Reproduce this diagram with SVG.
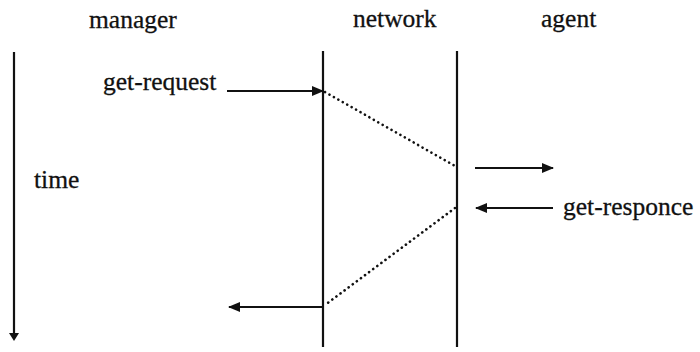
<svg xmlns="http://www.w3.org/2000/svg" width="700" height="352" viewBox="0 0 700 352">
  <style>
    text { font-family: "Liberation Serif", "Times New Roman", serif; font-size: 25.5px; fill: #111; stroke: #111; stroke-width: 0.3; }
    .life { stroke: #111; stroke-width: 2.2; fill: none; }
    .msg { stroke: #111; stroke-width: 2.2; fill: none; marker-end: url(#head); }
    .dot { stroke: #111; stroke-width: 2.6; fill: none; stroke-dasharray: 0.1 5; stroke-linecap: round; }
  </style>
  <defs>
    <marker id="head" viewBox="0 0 12 10" refX="11" refY="5" markerWidth="12" markerHeight="10" markerUnits="userSpaceOnUse" orient="auto">
      <path d="M0,0 L12,5 L0,10 Z" fill="#111"/>
    </marker>
  </defs>

  <rect width="700" height="352" fill="#fff"/>

  <!-- participants -->
  <g id="manager">
    <text x="89" y="28">manager</text>
  </g>
  <g id="network">
    <text x="353" y="27">network</text>
    <line class="life" x1="323" y1="51" x2="323" y2="347"/>
  </g>
  <g id="agent">
    <text x="541" y="27">agent</text>
    <line class="life" x1="457" y1="51" x2="457" y2="347"/>
  </g>

  <!-- time axis -->
  <g id="time">
    <line class="life" x1="14" y1="52" x2="14" y2="334"/>
    <path d="M9,333 L19,333 L14,341 Z" fill="#111"/>
    <text x="34" y="188">time</text>
  </g>

  <!-- labels -->
  <g id="get-request">
    <text x="103" y="90">get-request</text>
  </g>
  <g id="get-responce">
    <text x="563" y="215">get-responce</text>
  </g>

  <!-- messages -->
  <g id="connectors">
    <line class="msg" x1="227" y1="91" x2="323" y2="91"/>
    <line class="dot" x1="325" y1="92" x2="455" y2="166"/>
    <line class="msg" x1="475" y1="168" x2="553" y2="168"/>
    <line class="msg" x1="553" y1="208" x2="476" y2="208"/>
    <line class="dot" x1="455" y1="208" x2="325" y2="305"/>
    <line class="msg" x1="323" y1="307" x2="229" y2="307"/>
  </g>
</svg>
